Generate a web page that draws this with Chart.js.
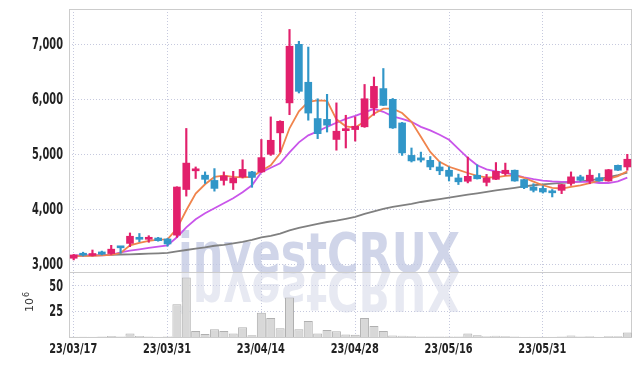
<!DOCTYPE html>
<html>
<head>
<meta charset="utf-8">
<script src="https://cdn.jsdelivr.net/npm/chart.js@4.4.0/dist/chart.umd.min.js"></script>
<style>
  html, body { margin: 0; padding: 0; background: #fff; }
  #wrap { width: 642px; height: 366px; }
</style>
</head>
<body>
<div id="wrap"><canvas id="chart" width="642" height="366"></canvas></div>
<script>
const dates = ['23/03/17','23/03/20','23/03/21','23/03/22','23/03/23','23/03/24','23/03/27','23/03/28','23/03/29','23/03/30',
    '23/03/31','23/04/03','23/04/04','23/04/05','23/04/06','23/04/07','23/04/10','23/04/11','23/04/12','23/04/13',
    '23/04/14','23/04/17','23/04/18','23/04/19','23/04/20','23/04/21','23/04/24','23/04/25','23/04/26','23/04/27',
    '23/04/28','23/05/02','23/05/03','23/05/04','23/05/08','23/05/09','23/05/10','23/05/11','23/05/12','23/05/15',
    '23/05/16','23/05/17','23/05/18','23/05/19','23/05/22','23/05/23','23/05/24','23/05/25','23/05/26','23/05/30',
    '23/05/31','23/06/01','23/06/02','23/06/05','23/06/07','23/06/08','23/06/09','23/06/12','23/06/13','23/06/14'];

const openP = [3110,3170,3160,3225,3195,3310,3380,3490,3455,3478, 3460,3530,4360,4700,4620,4525,4525,4480,4590,4680,
    4680,5000,5390,5935,7000,6310,5650,5635,5270,5430, 5450,5500,5845,6195,6000,5570,4980,4935,4890,4770,
    4710,4570,4510,4620,4490,4545,4650,4710,4540,4405, 4380,4330,4345,4470,4590,4515,4575,4515,4800,4770];
const highP = [3180,3220,3260,3240,3345,3315,3570,3560,3520,3490, 3470,4410,5470,4770,4680,4740,4680,4690,4900,4690,
    5270,5680,5610,7270,7055,6950,6010,6090,5935,5710, 5680,6270,6405,6560,6015,5580,5115,5040,4960,4860,
    4770,4640,4950,4810,4635,4850,4840,4715,4545,4465, 4425,4360,4455,4680,4620,4720,4650,4725,4805,5000];
const lowP = [3080,3150,3150,3170,3180,3200,3320,3410,3400,3420, 3330,3490,4240,4560,4470,4330,4440,4360,4570,4400,
    4670,4980,5040,5720,6115,5620,5285,5405,5075,5115, 5240,5490,5710,5885,5470,4980,4860,4860,4720,4630,
    4515,4450,4480,4550,4425,4540,4620,4510,4375,4315, 4295,4225,4285,4435,4510,4465,4510,4510,4705,4710];
const closeP = [3170,3165,3170,3185,3275,3300,3510,3455,3485,3430, 3370,4405,4840,4730,4545,4380,4605,4570,4725,4580,
    4940,5255,5600,6965,6145,5750,5375,5530,5420,5460, 5510,6010,6235,5890,5480,5025,4880,4895,4770,4700,
    4600,4500,4600,4555,4570,4690,4710,4515,4395,4345, 4315,4300,4450,4590,4530,4620,4515,4720,4710,4910];

// moving average lines
const ma5 = [3155,3155,3155,3164,3173,3205,3346,3388,3424,3449, 3455,3649,3982,4286,4455,4588,4613,4588,4582,4591,
    4700,4800,5018,5473,5782,5955,5982,5973,5636,5509, 5486,5595,5736,5831,5831,5751,5591,5318,5042,4864,
    4773,4718,4660,4609,4582,4582,4609,4618,4573,4504, 4437,4391,4378,4409,4437,4477,4522,4553,4604,4691];
const ma20 = [3164,3164,3164,3164,3173,3218,3249,3273,3300,3322, 3346,3491,3673,3818,3927,4018,4109,4200,4309,4436,
    4673,4755,4836,5036,5218,5345,5418,5500,5573,5645, 5700,5764,5827,5773,5691,5645,5591,5500,5436,5355,
    5264,5100,4936,4800,4727,4691,4664,4627,4582,4549, 4522,4506,4497,4497,4497,4497,4478,4478,4509,4577];
const ma60 = [3155,3158,3164,3167,3173,3178,3182,3187,3193,3198, 3206,3237,3260,3285,3309,3337,3355,3382,3409,3446,
    3491,3518,3558,3618,3664,3700,3737,3769,3795,3828, 3864,3918,3964,4009,4046,4073,4100,4133,4160,4186,
    4213,4240,4266,4291,4318,4346,4368,4391,4415,4437, 4455,4468,4480,4491,4509,4527,4555,4586,4622,4669];

// volume, millions
const volume = [0.3,0.2,0.3,0.4,1.0,0.4,3.5,1.0,0.4,0.3, 0.4,32,58,5.8,2.8,7.5,5.8,3.5,9.5,1.8,
    23.5,18.5,8.5,38.5,7.6,15.5,3.5,6.8,5.7,2.5, 2.2,18.5,10.8,5.8,1.5,1.3,0.7,0.6,0.6,0.6,
    0.6,0.6,3.4,1.6,0.8,1.3,0.7,0.4,0.3,0.3, 0.3,0.3,0.4,1.4,0.4,0.8,0.3,0.7,0.7,4.4];

const priceTicks = [3000, 4000, 5000, 6000, 7000];
const volTicks = [25, 50];

const UP = '#e2206c';
const DOWN = '#3196c8';
const candleColors = closeP.map((c, i) => c >= openP[i] ? UP : DOWN);

const FONT = '"DejaVu Sans", "Liberation Sans", sans-serif';
const gridColor = '#c6c9de';

// draw text squeezed horizontally, like the narrow face in the original
function narrowText(ctx, text, x, y, squeeze, align) {
    const w = ctx.measureText(text).width * squeeze;
    let left = x;
    if (align === 'right') left = x - w;
    else if (align === 'center') left = x - w / 2;
    ctx.save();
    ctx.translate(left, y);
    ctx.scale(squeeze, 1);
    ctx.fillText(text, 0, 0);
    ctx.restore();
}

const panelPlugin = {
    id: 'panel',
    beforeDatasetsDraw(chart) {
        const ctx = chart.ctx;
        const area = chart.chartArea;
        const sep = chart.scales.y.bottom;
        ctx.save();
        // watermark + reflection
        ctx.font = 'bold 55px ' + FONT;
        const w = ctx.measureText('investCRUX').width;
        ctx.translate(178, sep);
        ctx.scale(282 / w, 1);
        ctx.textBaseline = 'alphabetic';
        ctx.fillStyle = 'rgba(192,199,226,0.75)';
        ctx.fillText('investCRUX', 0, 0);
        ctx.scale(1, -1);
        ctx.fillStyle = 'rgba(208,212,230,0.5)';
        ctx.fillText('investCRUX', 0, 0);
        ctx.restore();

        ctx.save();
        ctx.strokeStyle = '#cccccc';
        ctx.lineWidth = 1;
        ctx.strokeRect(Math.round(area.left) + 0.5, Math.round(area.top) + 0.5,
            Math.round(area.right - area.left) - 1, Math.round(area.bottom - area.top));
        ctx.beginPath();
        ctx.moveTo(area.left, Math.round(sep) + 0.5);
        ctx.lineTo(area.right, Math.round(sep) + 0.5);
        ctx.stroke();
        ctx.restore();
    },
    afterDraw(chart) {
        const ctx = chart.ctx;
        const y = chart.scales.y, yv = chart.scales.yv, x = chart.scales.x;
        ctx.save();
        ctx.fillStyle = '#222';
        ctx.textBaseline = 'middle';
        ctx.font = 'bold 15px ' + FONT;
        const sq = 31 / ctx.measureText('7,000').width;
        priceTicks.forEach(v => narrowText(ctx, v.toLocaleString('en-US'), 63, y.getPixelForValue(v) + 1, sq, 'right'));
        volTicks.forEach(v => narrowText(ctx, String(v), 63, yv.getPixelForValue(v) + 1, sq, 'right'));

        ctx.font = 'bold 14px ' + FONT;
        ctx.textBaseline = 'alphabetic';
        const sqx = 48 / ctx.measureText('23/03/17').width;
        dates.forEach((d, i) => {
            if (i % 10 === 0) narrowText(ctx, d, x.getPixelForValue(i) - 0.5, 353, sqx, 'center');
        });
        ctx.restore();

        ctx.save();
        ctx.translate(33, 312);
        ctx.rotate(-Math.PI / 2);
        ctx.fillStyle = '#333';
        ctx.font = '11px "DejaVu Sans", sans-serif';
        ctx.textBaseline = 'alphabetic';
        ctx.fillText('10', 0, 0);
        const w10 = ctx.measureText('10').width;
        ctx.font = '8px "DejaVu Sans", sans-serif';
        ctx.fillText('6', w10 + 1, -4);
        ctx.restore();
    }
};

function noPad(s) {
    s.paddingTop = 0;
    s.paddingBottom = 0;
    s.paddingLeft = 0;
    s.paddingRight = 0;
}

new Chart(document.getElementById('chart'), {
    data: {
        labels: dates,
        datasets: [
            {
                type: 'bar',
                label: 'wick',
                data: lowP.map((l, i) => [l, highP[i]]),
                backgroundColor: candleColors,
                barThickness: 1.5,
                grouped: false,
                yAxisID: 'y',
                order: 1
            },
            {
                type: 'bar',
                label: 'body',
                data: openP.map((o, i) => [o, closeP[i]]),
                backgroundColor: candleColors,
                barThickness: 7,
                minBarLength: 2,
                grouped: false,
                yAxisID: 'y',
                order: 0
            },
            {
                type: 'line',
                label: 'MA5',
                data: ma5,
                borderColor: '#f0844c',
                borderWidth: 1.8,
                pointRadius: 0,
                yAxisID: 'y',
                order: 2
            },
            {
                type: 'line',
                label: 'MA20',
                data: ma20,
                borderColor: '#c955ea',
                borderWidth: 1.8,
                pointRadius: 0,
                yAxisID: 'y',
                order: 3
            },
            {
                type: 'line',
                label: 'MA60',
                data: ma60,
                borderColor: '#808080',
                borderWidth: 1.8,
                pointRadius: 0,
                yAxisID: 'y',
                order: 4
            },
            {
                type: 'bar',
                label: 'volume',
                data: volume,
                backgroundColor: '#d8d8d8',
                borderColor: '#b0b0b0',
                borderWidth: 1,
                barPercentage: 1,
                categoryPercentage: 0.96,
                grouped: false,
                yAxisID: 'yv',
                order: 5
            }
        ]
    },
    options: {
        responsive: false,
        animation: false,
        layout: { padding: { top: 9, right: 10, left: 0, bottom: 0 } },
        plugins: { legend: { display: false }, tooltip: { enabled: false } },
        scales: {
            x: {
                type: 'category',
                offset: true,
                afterFit: s => { s.height = 29; noPad(s); },
                grid: { color: gridColor, drawTicks: false, offset: false },
                border: { display: false, dash: [1, 2] },
                ticks: {
                    autoSkip: false,
                    maxRotation: 0,
                    padding: 4,
                    color: 'rgba(0,0,0,0)',
                    font: { family: FONT, size: 14, weight: 'bold' },
                    callback: (v, i) => i % 10 === 0 ? dates[i] : null
                }
            },
            y: {
                type: 'linear',
                position: 'left',
                stack: 'panels',
                stackWeight: 263,
                weight: 2,
                min: 2860,
                max: 7642,
                afterFit: s => { s.width = 69; noPad(s); },
                afterBuildTicks: s => { s.ticks = priceTicks.map(v => ({ value: v })); },
                grid: { color: gridColor, drawTicks: false },
                border: { display: false, dash: [1, 2] },
                ticks: { display: false }
            },
            yv: {
                type: 'linear',
                position: 'left',
                stack: 'panels',
                stackWeight: 65,
                weight: 1,
                min: 0,
                max: 63.3,
                afterFit: s => { s.width = 69; noPad(s); },
                afterBuildTicks: s => { s.ticks = volTicks.map(v => ({ value: v })); },
                grid: { color: gridColor, drawTicks: false },
                border: { display: false, dash: [1, 2] },
                ticks: { display: false }
            }
        }
    },
    plugins: [panelPlugin]
});
</script>
</body>
</html>
